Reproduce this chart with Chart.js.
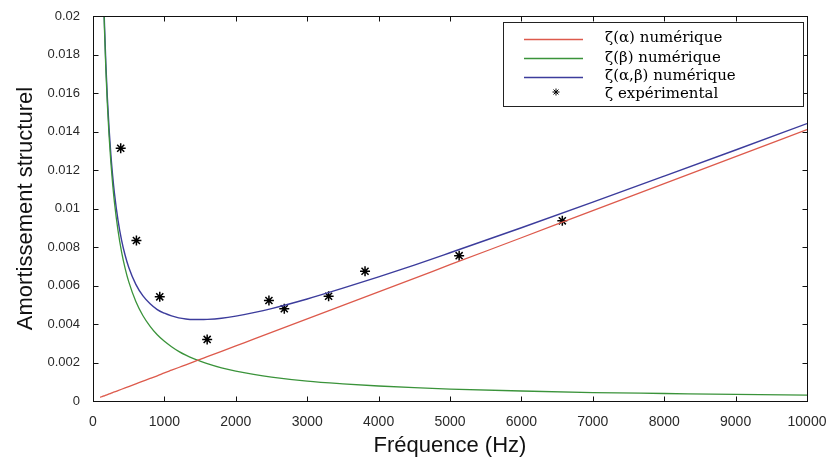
<!DOCTYPE html>
<html><head><meta charset="utf-8">
<script src="https://cdn.jsdelivr.net/npm/chart.js@4.4.1/dist/chart.umd.min.js"></script>
<style>html,body{margin:0;padding:0;background:#fff;} #wrap{width:832px;height:463px;}</style>
</head><body><div id="wrap"><canvas id="c" width="832" height="463"></canvas></div>
<script>
// ---- data ----
const freq = [100,120,140,160,180,200,225,250,275,300,350,400,450,500,600,700,800,900,1000,1100,1200,1300,1400,1500,1600,1800,2000,2250,2500,3000,3500,4000,4500,5000,6000,7000,8000,9000,10000];
const zetaAlpha = [0.00019,0.00022,0.00025,0.00027,0.00030,0.00033,0.00037,0.00040,0.00044,0.00047,0.00054,0.00061,0.00068,0.00075,0.00089,0.00103,0.00117,0.00131,0.00146,0.00160,0.00174,0.00188,0.00202,0.00216,0.00230,0.00258,0.00286,0.00321,0.00356,0.00427,0.00497,0.00567,0.00637,0.00708,0.00848,0.00989,0.01129,0.01270,0.01410];
const zetaBeta = [0.0310,0.02583,0.02214,0.01938,0.01722,0.01550,0.01378,0.01240,0.01127,0.01033,0.00886,0.00775,0.00689,0.00620,0.00517,0.00443,0.00388,0.00344,0.00310,0.00282,0.00258,0.00238,0.00221,0.00207,0.00194,0.00172,0.00155,0.00138,0.00124,0.00103,0.00089,0.00078,0.00069,0.00062,0.00052,0.00044,0.00039,0.00034,0.00031];
const zetaAlphaBeta = [0.03119,0.02605,0.02239,0.01965,0.01752,0.01583,0.01415,0.01280,0.01171,0.01080,0.00940,0.00836,0.00757,0.00695,0.00606,0.00546,0.00505,0.00475,0.00456,0.00442,0.00432,0.00426,0.00423,0.00423,0.00424,0.00430,0.00441,0.00459,0.00480,0.00530,0.00586,0.00645,0.00706,0.00770,0.00900,0.01033,0.01168,0.01304,0.01441];
const expFreq = [388,608,935,1599,2464,2679,3300,3810,5128,6573];
const expZeta = [0.01313,0.00834,0.00541,0.00320,0.00522,0.00479,0.00544,0.00674,0.00755,0.00936];
const xTicks = [0,1000,2000,3000,4000,5000,6000,7000,8000,9000,10000];
const xTickLabels = ['0','1000','2000','3000','4000','5000','6000','7000','8000','9000','10000'];
const yTicks = [0,0.002,0.004,0.006,0.008,0.01,0.012,0.014,0.016,0.018,0.02];
const yTickLabels = ['0','0.002','0.004','0.006','0.008','0.01','0.012','0.014','0.016','0.018','0.02'];
const seriesLabels = ['ζ(α) numérique','ζ(β) numérique','ζ(α,β) numérique','ζ expérimental'];
const xTitle = 'Fréquence (Hz)';
const yTitle = 'Amortissement structurel';

const toXY = (xs, ys) => xs.map((x, i) => ({x: x, y: ys[i]}));

const framePlugin = {
  id: 'frame',
  afterDraw(chart) {
    const ctx = chart.ctx, a = chart.chartArea;
    const xs = chart.scales.x, ys = chart.scales.y;
    ctx.save();
    ctx.strokeStyle = '#111';
    ctx.lineWidth = 1;
    const L = Math.round(a.left) + 0.5, R = Math.round(a.right) + 0.5;
    const T = Math.round(a.top) + 0.5, B = Math.round(a.bottom) + 0.5;
    ctx.strokeRect(L, T, R - L, B - T);
    const tl = 5;
    ctx.beginPath();
    xTicks.forEach(v => {
      const px = Math.round(xs.getPixelForValue(v)) + 0.5;
      ctx.moveTo(px, B); ctx.lineTo(px, B - tl);
      ctx.moveTo(px, T); ctx.lineTo(px, T + tl);
    });
    yTicks.forEach(v => {
      const py = Math.round(ys.getPixelForValue(v)) + 0.5;
      ctx.moveTo(L, py); ctx.lineTo(L + tl, py);
      ctx.moveTo(R, py); ctx.lineTo(R - tl, py);
    });
    ctx.stroke();

    // legend box
    const bx = 503.5, by = 22.5, bw = 300, bh = 84;
    ctx.fillStyle = '#fff';
    ctx.fillRect(bx, by, bw, bh);
    ctx.strokeStyle = '#222';
    ctx.strokeRect(bx, by, bw, bh);
    const rows = [38.5, 58, 76.5, 94];
    ctx.font = '15px "DejaVu Serif"';
    ctx.textBaseline = 'middle';
    ctx.textAlign = 'left';
    chart.data.datasets.forEach((ds, i) => {
      const y = rows[i];
      if (ds.showLine) {
        ctx.strokeStyle = ds.borderColor;
        ctx.lineWidth = 1.3;
        ctx.beginPath();
        ctx.moveTo(524, Math.round(y) + 0.5);
        ctx.lineTo(583, Math.round(y) + 0.5);
        ctx.stroke();
      } else {
        ctx.strokeStyle = '#000';
        ctx.lineWidth = 1;
        Chart.helpers.drawPoint(ctx, {pointStyle: 'star', radius: 3.5, borderWidth: 1}, 556, y - 2);
      }
      ctx.fillStyle = '#000';
      ctx.fillText(ds.label, 605, y);
    });
    ctx.restore();
  }
};

new Chart(document.getElementById('c'), {
  type: 'scatter',
  data: {
    datasets: [
      {label: seriesLabels[0], data: toXY(freq, zetaAlpha), showLine: true, borderColor: '#dd5a4c', borderWidth: 1.3, pointRadius: 0, cubicInterpolationMode: 'monotone'},
      {label: seriesLabels[1], data: toXY(freq, zetaBeta), showLine: true, borderColor: '#3a933a', borderWidth: 1.3, pointRadius: 0, cubicInterpolationMode: 'monotone'},
      {label: seriesLabels[2], data: toXY(freq, zetaAlphaBeta), showLine: true, borderColor: '#3c3c9c', borderWidth: 1.4, pointRadius: 0, cubicInterpolationMode: 'monotone'},
      {label: seriesLabels[3], data: toXY(expFreq, expZeta), showLine: false, pointStyle: 'star', pointRadius: 5, borderColor: '#000', backgroundColor: '#000', borderWidth: 1.5}
    ]
  },
  options: {
    responsive: false,
    animation: false,
    devicePixelRatio: 1,
    layout: {padding: {left: 0, top: 16, right: 25, bottom: 0}},
    plugins: {legend: {display: false}, tooltip: {enabled: false}},
    scales: {
      x: {
        type: 'linear', min: 0, max: 10000,
        grid: {display: false}, border: {display: false},
        afterBuildTicks: s => { s.ticks = xTicks.map(v => ({value: v})); },
        afterFit: s => { s.height = 62; },
        ticks: {padding: 5, maxRotation: 0, autoSkip: false, color: '#2a2a2a', font: {family: '"Liberation Sans", Arial, sans-serif', size: 14},
          callback: v => xTickLabels[xTicks.indexOf(v)]},
        title: {display: true, text: xTitle, color: '#111', padding: {top: 0, bottom: 4}, font: {family: '"Liberation Sans", Arial, sans-serif', size: 22}}
      },
      y: {
        type: 'linear', min: 0, max: 0.02,
        grid: {display: false}, border: {display: false},
        afterBuildTicks: s => { s.ticks = yTicks.map(v => ({value: v})); },
        afterFit: s => { s.width = 93; },
        ticks: {padding: 5, autoSkip: false, color: '#2a2a2a', font: {family: '"Liberation Sans", Arial, sans-serif', size: 13},
          callback: v => yTickLabels[yTicks.indexOf(v)]},
        title: {display: true, text: yTitle, color: '#111', padding: {top: 13, bottom: 0}, font: {family: '"Liberation Sans", Arial, sans-serif', size: 22}}
      }
    }
  },
  plugins: [framePlugin]
});
</script>
</body></html>
